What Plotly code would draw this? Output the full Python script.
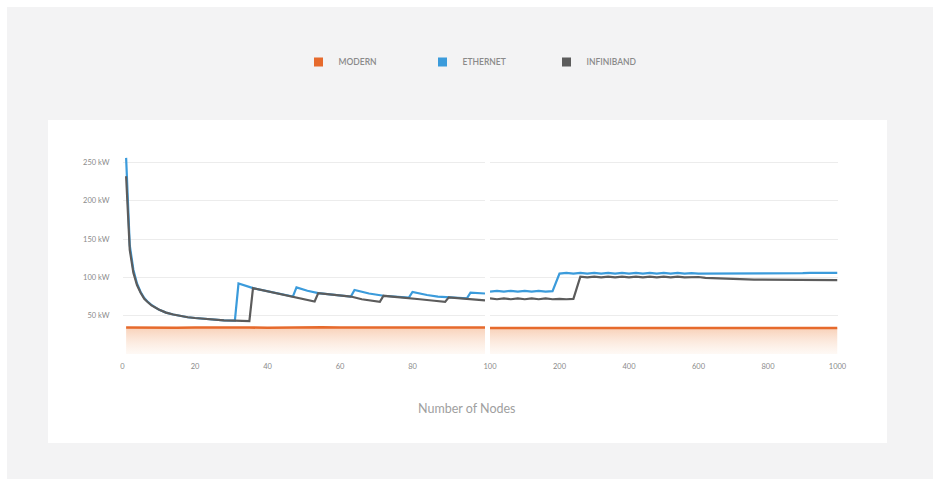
import plotly.graph_objects as go

W, H = 933, 479

# ---------------- data ----------------
SERIES = ["MODERN", "ETHERNET", "INFINIBAND"]
COLORS = ["#e66a2c", "#3b9bdb", "#5c5c5c"]

# left panel: 0-100 nodes (linear)
ETH_X_L = [1, 2, 3, 4, 5, 6, 7, 8, 10, 12, 14, 16, 18, 20, 22, 25, 28, 31,
           32, 36, 40, 44, 47,
           48, 51, 54, 57, 60, 63,
           64, 68, 72, 76, 79,
           80, 84, 87, 90, 93, 95,
           96, 100]
ETH_Y_L = [256, 142, 110, 92, 81, 73, 68, 64, 58, 54, 51.5, 49.5, 48, 47, 46, 45, 44, 43.5,
           92, 86, 82, 78, 75,
           87, 82.5, 79.5, 78, 76.5, 75,
           83.5, 79, 76, 74.5, 73.5,
           81, 77, 75, 74, 73, 72.5,
           80, 79]

IB_X_L = [1, 2, 3, 4, 5, 6, 7, 8, 10, 12, 14, 16, 18, 20, 22, 25, 28, 31, 35,
          36, 40, 44, 47, 50, 53,
          54, 57, 60, 63, 66, 71,
          72, 76, 79, 82, 86, 89,
          90, 93, 95, 98, 100]
IB_Y_L = [232, 136, 106, 90, 80, 72, 67.5, 63.5, 58, 54, 51.5, 49.5, 48, 47, 46, 45, 44, 43.5, 43,
          86, 82, 78, 75, 71.5, 68.5,
          79.5, 78, 76.5, 75, 71.5, 68,
          76, 74.5, 73.5, 71.5, 69.5, 68,
          74, 73, 72.5, 71, 70]

MOD_X_L = [1, 5, 10, 15, 20, 25, 30, 35, 40, 45, 50, 55, 60, 65, 70, 75, 80, 85, 90, 95, 100]
MOD_Y_L = [34.5, 34.2, 34.6, 34.3, 34.5, 34.8, 34.4, 34.6, 34.3, 34.7, 34.5, 35.0, 34.6, 34.5,
           34.4, 34.6, 34.5, 34.4, 34.5, 34.4, 34.5]

# right panel: 100-1000 nodes (categorical spacing)
NODES_R = ["100", "110", "120", "130", "140", "150", "160", "170", "180", "190",
           "200", "220", "240", "260", "280", "300", "320", "340", "360", "380",
           "400", "420", "440", "460", "480", "500", "520", "540", "560", "580",
           "600", "620", "640", "660", "680", "700", "720", "740", "760", "780",
           "800", "820", "840", "860", "880", "900", "920", "940", "960", "980", "1000"]
ETH_Y_R = [81.5, 82.5, 81.5, 82.5, 81.5, 82.5, 81.5, 82.5, 81.5, 82,
           105, 106, 105, 106, 105, 106, 105, 106, 105, 106,
           105, 106, 105, 106, 105, 106, 105, 106, 105, 105.5,
           105, 105, 105, 105, 105, 105, 105, 105, 105.5, 105.5,
           105.5, 105.5, 105.5, 105.5, 105.5, 105.5, 106, 106, 106, 106, 106]
IB_Y_R = [72.5, 71.5, 72.5, 71.5, 72.5, 71.5, 72.5, 71.5, 72.5, 71.5,
          72, 71.5, 72, 101, 100, 101, 100, 101, 100, 101,
          100, 101, 100, 101, 100, 101, 100, 101, 100, 100.5,
          100.5, 99.5, 99, 98.5, 98, 97.5, 97.5, 97, 97, 97,
          97, 97, 97, 97, 96.5, 96.5, 96.5, 96.5, 96.5, 96.5, 96.5]
MOD_Y_R = [34, 34, 34, 34, 34, 34, 34, 34, 34, 34,
           34, 34, 34, 34, 34, 34, 34, 34, 34, 34,
           34, 34, 34, 34, 34, 34, 34, 34, 34, 34,
           34, 34, 34, 34, 34, 34, 34, 34, 34, 34,
           34, 34, 34, 34, 34, 34, 34, 34, 34, 34, 34]

LEFT_TICKS = [0, 20, 40, 60, 80]
RIGHT_TICKS = ["100", "200", "400", "600", "800", "1000"]
Y_TICKS = [0, 50, 100, 150, 200, 250]
Y_TICKTEXT = ["", "50 kW", "100 kW", "150 kW", "200 kW", "250 kW"]

# ---------------- figure ----------------
px = lambda v: v / W
py = lambda v: 1 - v / H

fill_grad = dict(type="vertical",
                 colorscale=[[0, "rgba(252,235,222,0.3)"], [1, "rgba(243,170,125,0.55)"]])

fig = go.Figure()

def add_series(x, y, name, color, xa, ya, fill=False, width=2.2):
    kw = {}
    if fill:
        kw = dict(fill="tozeroy", fillgradient=fill_grad)
    fig.add_trace(go.Scatter(x=x, y=y, mode="lines", name=name, showlegend=False,
                             line=dict(color=color, width=width),
                             xaxis=xa, yaxis=ya, hoverinfo="skip", **kw))

add_series(MOD_X_L, MOD_Y_L, SERIES[0], COLORS[0], "x", "y", fill=True, width=2.6)
add_series(NODES_R, MOD_Y_R, SERIES[0], COLORS[0], "x2", "y2", fill=True, width=2.6)
add_series(ETH_X_L, ETH_Y_L, SERIES[1], COLORS[1], "x", "y")
add_series(NODES_R, ETH_Y_R, SERIES[1], COLORS[1], "x2", "y2")
add_series(IB_X_L, IB_Y_L, SERIES[2], COLORS[2], "x", "y")
add_series(NODES_R, IB_Y_R, SERIES[2], COLORS[2], "x2", "y2")

for name, color in zip(SERIES, COLORS):
    fig.add_trace(go.Scatter(x=[None], y=[None], mode="markers", name=name,
                             marker=dict(symbol="square", size=9, color=color),
                             showlegend=True))

grid = "#ececec"
tickfont = dict(family="Lato", size=7.5, color="#8a8a8a")
y_dom = [py(354), py(153.3)]

fig.update_layout(
    width=W, height=H,
    margin=dict(l=0, r=0, t=0, b=0, pad=0, autoexpand=False),
    paper_bgcolor="white",
    plot_bgcolor="rgba(0,0,0,0)",
    xaxis=dict(domain=[px(122.5), px(485)], range=[0, 100], tickvals=LEFT_TICKS,
               showgrid=False, zeroline=False, showline=False, ticks="",
               tickfont=tickfont, ticklabelstandoff=6, anchor="y"),
    xaxis2=dict(domain=[px(490), px(837.5)], type="category", categoryorder="array",
                categoryarray=NODES_R, range=[0, len(NODES_R) - 1],
                tickmode="array", tickvals=RIGHT_TICKS, showgrid=False, zeroline=False,
                showline=False, ticks="", tickfont=tickfont, ticklabelstandoff=6, anchor="y2"),
    yaxis=dict(domain=y_dom, range=[0, 262], tickvals=Y_TICKS, ticktext=Y_TICKTEXT,
               showgrid=True, gridcolor=grid, gridwidth=1, zeroline=False, showline=False,
               ticks="", tickfont=tickfont, ticklabelstandoff=12, anchor="x"),
    yaxis2=dict(domain=y_dom, matches="y", tickvals=Y_TICKS, showticklabels=False,
                showgrid=True, gridcolor=grid, gridwidth=1, zeroline=False, showline=False,
                ticks="", anchor="x2"),
    legend=dict(orientation="h", x=px(298.5), xanchor="left", y=py(62), yanchor="middle",
                entrywidth=79, entrywidthmode="pixels", itemwidth=30,
                font=dict(family="Lato", size=8.5, color="#8a8a8a", weight=600),
                bgcolor="rgba(0,0,0,0)"),
    shapes=[
        dict(type="rect", xref="paper", yref="paper", x0=px(7), x1=px(933), y0=py(479), y1=py(7),
             fillcolor="#f3f3f4", line=dict(width=0), layer="below"),
        dict(type="rect", xref="paper", yref="paper", x0=px(48), x1=px(887), y0=py(443), y1=py(120),
             fillcolor="white", line=dict(width=0), layer="below"),
    ],
    annotations=[
        dict(text="Number of Nodes", xref="paper", yref="paper", x=px(467), y=py(408),
             showarrow=False, xanchor="center", yanchor="middle",
             font=dict(family="Lato", size=12.5, color="#a0a0a0")),
    ],
)

fig.write_html("out.html", config={"displayModeBar": False},
               post_script="document.body.style.margin='0';document.body.style.overflow='hidden';")
